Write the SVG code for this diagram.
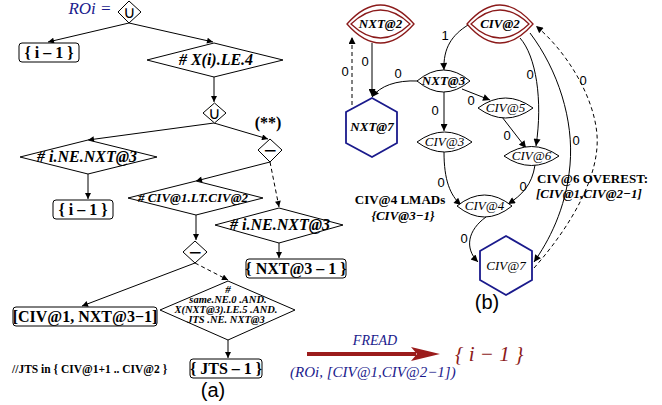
<svg xmlns="http://www.w3.org/2000/svg" width="662" height="405" viewBox="0 0 662 405">
<defs>
<marker id="ah" viewBox="0 0 10 10" refX="10" refY="5" markerWidth="7" markerHeight="6" markerUnits="userSpaceOnUse" orient="auto"><path d="M0,0 L10,5 L0,10 z" fill="#000"/></marker>
<marker id="ahb" viewBox="0 0 10 10" refX="10" refY="5" markerWidth="9" markerHeight="7" markerUnits="userSpaceOnUse" orient="auto"><path d="M0,0 L10,5 L0,10 z" fill="#000"/></marker>
</defs>
<style>
.ln{fill:none;stroke:#000;stroke-width:1}
.dash{stroke-dasharray:4,3}
.dg{fill:#fff;stroke:#000;stroke-width:1}
.box{fill:#fff;stroke:#000;stroke-width:1}
.bt{font-family:"Liberation Serif",serif;font-weight:bold;font-size:16px;text-anchor:middle;fill:#000}
.dt{font-family:"Liberation Serif",serif;font-weight:bold;font-style:italic;text-anchor:middle;fill:#000}
.sym{font-family:"DejaVu Sans",sans-serif;font-size:17px;text-anchor:middle;fill:#000}
.el{font-family:"Liberation Sans",sans-serif;font-size:13px;text-anchor:middle;fill:#000}
.lens{fill:#fff;stroke:#000;stroke-width:1}
.dbl{fill:#fff;stroke:#8b1a1a;stroke-width:1.3}
.hex{fill:#fff;stroke:#1a1a8c;stroke-width:1.8}
.nt{font-family:"Liberation Serif",serif;font-style:italic;font-size:13px;text-anchor:middle;fill:#000}
.blue{fill:#1a1a8c;font-family:"Liberation Serif",serif;font-style:italic}
</style>

<!-- (a) flowchart -->
<text x="90" y="14" class="blue" font-size="17" text-anchor="middle">ROi =</text>

<g id="connectors-a">
<path class="ln" d="M129,23 L48,42" marker-end="url(#ah)"/>
<path class="ln" d="M129,23 L213,42" marker-end="url(#ah)"/>
<path class="ln" d="M214,77 L214,102" marker-end="url(#ah)"/>
<path class="ln" d="M214,123 L88,140" marker-end="url(#ah)"/>
<path class="ln" d="M214,123 L268,139" marker-end="url(#ah)"/>
<path class="ln" d="M88,174 L88,199" marker-end="url(#ah)"/>
<path class="ln" d="M270,162 L196,181" marker-end="url(#ah)"/>
<path class="ln dash" d="M270,162 L279,207" marker-end="url(#ah)"/>
<path class="ln" d="M279,243 L279,258" marker-end="url(#ah)"/>
<path class="ln" d="M196,215 L196,240" marker-end="url(#ah)"/>
<path class="ln" d="M195,263 L82,306" marker-end="url(#ah)"/>
<path class="ln dash" d="M195,263 L228,280" marker-end="url(#ah)"/>
<path class="ln" d="M228,340 L228,358" marker-end="url(#ah)"/>
</g>

<g id="union1"><polygon class="dg" points="118,12 129,1 141,12 129,23"/><text x="129.5" y="18" class="sym">∪</text></g>
<g id="box-i1"><rect class="box" x="19" y="43" width="60" height="19" rx="3"/><text x="49" y="58" class="bt">{ i – 1 }</text></g>
<g id="d-xle4"><polygon class="dg" points="147,60 214,43 283,60 214,77"/><text x="216" y="65" class="dt" font-size="16"># X(i).LE.4</text></g>
<g id="union2"><polygon class="dg" points="203,113 214.5,103 226,113 214.5,123"/><text x="214.5" y="119" class="sym">∪</text></g>
<text x="268" y="128" class="bt" font-size="13">(**)</text>
<g id="d-ne1"><polygon class="dg" points="20,157 88,140 157,157 88,174"/><text x="87" y="162" class="dt" font-size="16"># i.NE.NXT@3</text></g>
<g id="box-i1b"><rect class="box" x="53" y="200" width="60" height="19" rx="3"/><text x="83" y="215" class="bt">{ i – 1 }</text></g>
<g id="minus1"><polygon class="dg" points="258,150 270,139 282,150 270,162"/><text x="270" y="156" class="sym">−</text></g>
<g id="d-civlt"><polygon class="dg" points="128,198 196,181 263,198 196,215"/><text x="193" y="202" class="dt" font-size="13"># CIV@1.LT.CIV@2</text></g>
<g id="d-ne2"><polygon class="dg" points="215,225 279,208 343,225 279,243"/><text x="280" y="230" class="dt" font-size="16"># i.NE.NXT@3</text></g>
<g id="box-nxt"><rect class="box" x="246" y="259" width="100" height="19" rx="3"/><text x="296" y="274" class="bt" font-size="15">{ NXT@3 – 1 }</text></g>
<g id="minus2"><polygon class="dg" points="183,252 195,241 207,252 195,263"/><text x="195" y="258" class="sym">−</text></g>
<g id="box-civ"><rect class="box" x="13" y="307" width="144" height="19" rx="3"/><text x="85" y="322" class="bt" font-size="15.2">[CIV@1, NXT@3−1]</text></g>
<g id="d-big"><polygon class="dg" points="160,310 228,281 295,310 228,340"/>
<text class="dt" font-size="11" x="228" y="293">#</text>
<text class="dt" font-size="10.5" x="228" y="303">same.NE.0 .AND.</text>
<text class="dt" font-size="10.5" x="226" y="313">X(NXT@3).LE.5 .AND.</text>
<text class="dt" font-size="10.5" x="226" y="323">JTS .NE. NXT@3</text></g>
<g id="box-jts"><rect class="box" x="190" y="359" width="72" height="19" rx="3"/><text x="226" y="374" class="bt">{ JTS – 1 }</text></g>
<text x="12" y="373" font-family="Liberation Serif,serif" font-weight="bold" font-size="11.5">//JTS in { CIV@1+1 .. CIV@2 }</text>
<text x="213" y="397" font-family="Liberation Sans,sans-serif" font-size="20" text-anchor="middle">(a)</text>

<!-- (b) graph -->
<g id="connectors-b">
<path class="ln" d="M372,43 L372,96" marker-end="url(#ahb)"/>
<path class="ln dash" stroke="#555" d="M352,112 L352,37" marker-end="url(#ahb)"/>
<path class="ln" d="M468,25 C452,35 443,48 444,70" marker-end="url(#ahb)"/>
<path class="ln" d="M418,81 C396,80 380,86 372,97" marker-end="url(#ahb)"/>
<path class="ln" d="M444,92 L444,131" marker-end="url(#ahb)"/>
<path class="ln" d="M462,89 L490,100" marker-end="url(#ahb)"/>
<path class="ln" d="M502,117 L526,148" marker-end="url(#ahb)"/>
<path class="ln" d="M520,38 C536,56 543,100 536,146" marker-end="url(#ahb)"/>
<path class="ln" d="M444,152 C444,180 450,195 461,205" marker-end="url(#ahb)"/>
<path class="ln" d="M535,165 C532,185 522,195 508,204" marker-end="url(#ahb)"/>
<path class="ln" d="M486,217 C468,230 464,248 478,262" marker-end="url(#ahb)"/>
<path class="ln" d="M530,33 C558,70 574,120 570,165 C566,210 548,242 534,262" marker-end="url(#ahb)"/>
<path class="ln dash" d="M534,268 C572,225 600,175 597,135 C594,95 565,50 536,26" marker-end="url(#ahb)"/>
<text x="365" y="66" class="el">0</text>
<text x="345" y="76" class="el">0</text>
<text x="445" y="40" class="el" font-size="18">1</text>
<text x="398" y="78" class="el">0</text>
<text x="435" y="115" class="el">0</text>
<text x="471" y="105" class="el">0</text>
<text x="507" y="140" class="el">0</text>
<text x="530" y="79" class="el">0</text>
<text x="441" y="187" class="el">0</text>
<text x="523" y="191" class="el">0</text>
<text x="464" y="243" class="el">0</text>
<text x="576" y="145" class="el">0</text>
<text x="583" y="85" class="el">0</text>
</g>

<g id="nxt2"><path class="dbl" d="M347,24 Q380.5,-14 414,24 Q380.5,62 347,24 z"/><path class="dbl" d="M351,24 Q380.5,-4 410,24 Q380.5,52 351,24 z"/><text x="380.5" y="28" class="nt" font-weight="bold">NXT@2</text></g>
<g id="civ2"><path class="dbl" d="M467,24 Q500,-14 533,24 Q500,62 467,24 z"/><path class="dbl" d="M471,24 Q500,-4 529,24 Q500,52 471,24 z"/><text x="500" y="28" class="nt" font-weight="bold">CIV@2</text></g>
<g id="nxt7"><polygon class="hex" points="372,98 397,112 397,143 372,157 346,143 346,112"/><text x="372" y="131" class="nt" font-weight="bold">NXT@7</text></g>
<g id="nxt3"><path class="lens" d="M417,81 Q443.5,59 470,81 Q443.5,103 417,81 z"/><text x="443.5" y="85" class="nt" font-weight="bold">NXT@3</text></g>
<g id="civ5"><path class="lens" d="M478,108 Q505.5,88 533,108 Q505.5,128 478,108 z"/><text x="505.5" y="112" class="nt">CIV@5</text></g>
<g id="civ3"><path class="lens" d="M417,142 Q444.5,122 472,142 Q444.5,162 417,142 z"/><text x="444.5" y="146" class="nt">CIV@3</text></g>
<g id="civ6"><path class="lens" d="M504,156 Q531.5,137 559,156 Q531.5,175 504,156 z"/><text x="531.5" y="160" class="nt">CIV@6</text></g>
<g id="civ4"><path class="lens" d="M457,206 Q484.5,184 512,206 Q484.5,228 457,206 z"/><text x="484.5" y="210" class="nt">CIV@4</text></g>
<g id="civ7"><polygon class="hex" points="506,236 532,251 532,280 506,295 480,280 480,251"/><text x="506" y="270" class="nt">CIV@7</text></g>

<text x="400" y="204" font-family="Liberation Serif,serif" font-weight="bold" font-size="13" text-anchor="middle">CIV@4 LMADs</text>
<text x="403" y="220" class="dt" font-size="13">{CIV@3−1}</text>
<text x="537" y="183" font-family="Liberation Serif,serif" font-weight="bold" font-size="13">CIV@6 OVEREST:</text>
<text x="536" y="198" font-family="Liberation Serif,serif" font-weight="bold" font-style="italic" font-size="13">[CIV@1,CIV@2−1]</text>
<text x="487" y="309" font-family="Liberation Sans,sans-serif" font-size="20" text-anchor="middle">(b)</text>

<!-- FREAD arrow -->
<g id="fread">
<line x1="307" y1="354" x2="416" y2="354" stroke="#9b1c1c" stroke-width="4"/>
<polygon points="411,347 440,354 411,361 417,354" fill="#9b1c1c"/>
<text x="375" y="345" class="blue" font-size="14" text-anchor="middle">FREAD</text>
<text x="290" y="377" class="blue" font-size="15">(ROi, [CIV@1,CIV@2−1])</text>
<text x="455" y="361" font-family="Liberation Serif,serif" font-style="italic" font-size="21" fill="#8b1a1a">{ i − 1 }</text>
</g>
</svg>
